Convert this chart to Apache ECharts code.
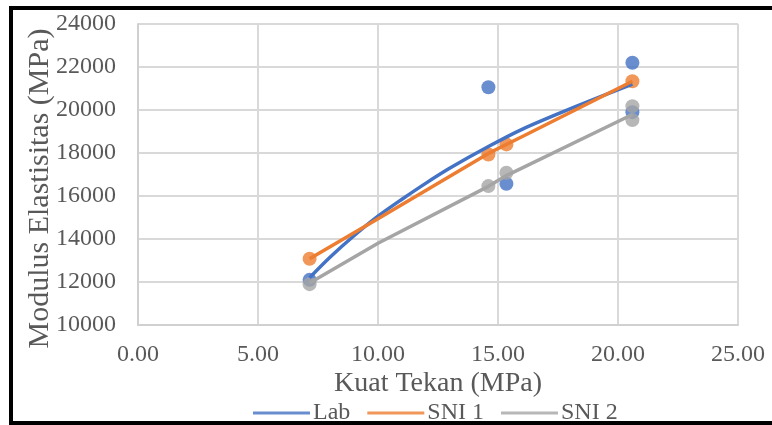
<!DOCTYPE html>
<html>
<head>
<meta charset="utf-8">
<script src="https://cdn.jsdelivr.net/npm/echarts@6/dist/echarts.min.js"></script>
<style>
  html, body { margin: 0; padding: 0; background: #fff; }
  #frame {
    position: absolute; left: 9px; top: 6px; width: 800px; height: 411px;
    border-top: 4px solid #000; border-left: 4px solid #000; border-bottom: 4px solid #000;
  }
  #chart { position: absolute; left: 0; top: 0; width: 772px; height: 425px; }
</style>
</head>
<body>
<div id="frame"></div>
<div id="chart"></div>
<script>
// measured points (x = kuat tekan, y = modulus elastisitas)
var labPoints = [[7.15, 12100], [14.6, 21060], [15.35, 16570], [20.6, 22200], [20.6, 19900]]
var sni1Points = [[7.15, 13080], [14.6, 17930], [15.35, 18400], [20.6, 21340]]
var sni2Points = [[7.15, 11900], [14.6, 16460], [15.35, 17080], [20.6, 20180], [20.6, 19530]]

// trend lines
var labLine = [[7.15, 12200], [8, 13150], [9, 14150], [10, 15060], [11, 15850], [12, 16600],
  [13, 17300], [14.6, 18300], [16, 19100], [18, 20050], [20.6, 21200]]
var sni1Line = [[7.15, 13080], [10, 14940], [14.6, 17980], [16.1, 18815], [20.6, 21340]]
var sni2Line = [[7.15, 11950], [10, 13800], [14.6, 16450], [15.35, 16950], [20.6, 19790]]

var seriesNames = ['Lab', 'SNI 1', 'SNI 2']
var colors = ['#4472C4', '#ED7D31', '#A5A5A5']

var font = 'Liberation Serif'
var textColor = '#595959'

function pointSeries(name, data, color) {
  return {
    name: name,
    type: 'scatter',
    symbol: 'circle',
    symbolSize: 14,
    itemStyle: { color: color },
    data: data
  }
}

function lineSeries(name, data, color, smooth) {
  return {
    name: name,
    type: 'line',
    smooth: smooth,
    symbol: 'none',
    lineStyle: { color: color, width: 3.5 },
    itemStyle: { color: color },
    data: data
  }
}

var chart = echarts.init(document.getElementById('chart'))
chart.setOption({
  animation: false,
  color: colors,
  textStyle: { fontFamily: font },
  grid: { left: 138, right: 34, top: 24, bottom: 100 },
  legend: {
    left: 248,
    top: 396,
    itemWidth: 57,
    itemHeight: 3,
    itemGap: 17,
    icon: 'rect',
    textStyle: { fontFamily: font, fontSize: 24, color: textColor, padding: [0, 0, 0, -2] },
    data: seriesNames
  },
  xAxis: {
    type: 'value',
    min: 0,
    max: 25,
    interval: 5,
    name: 'Kuat Tekan (MPa)',
    nameLocation: 'middle',
    nameGap: 45,
    nameMoveOverlap: false,
    nameTextStyle: { fontFamily: font, fontSize: 28, color: textColor },
    axisLine: { show: true, lineStyle: { color: '#D0D0D0', width: 2 } },
    axisTick: { show: false },
    axisLabel: {
      fontFamily: font, fontSize: 24, color: textColor, margin: 18,
      formatter: function (v) { return v.toFixed(2) }
    },
    splitLine: { lineStyle: { color: '#D9D9D9', width: 2 } }
  },
  yAxis: {
    type: 'value',
    min: 10000,
    max: 24000,
    interval: 2000,
    name: 'Modulus Elastisitas (MPa)',
    nameLocation: 'middle',
    nameGap: 83,
    nameMoveOverlap: false,
    nameTextStyle: { fontFamily: font, fontSize: 30, color: textColor, padding: [0, 28, 0, 0] },
    axisLine: { show: true, lineStyle: { color: '#D0D0D0', width: 2 } },
    axisTick: { show: false },
    axisLabel: {
      fontFamily: font, fontSize: 24, color: textColor, margin: 22,
      formatter: function (v) { return String(v) }
    },
    splitLine: { lineStyle: { color: '#D9D9D9', width: 2 } }
  },
  series: [
    pointSeries('Lab', labPoints, colors[0]),
    pointSeries('SNI 1', sni1Points, colors[1]),
    lineSeries('Lab', labLine, colors[0], 0.3),
    lineSeries('SNI 1', sni1Line, colors[1], false),
    pointSeries('SNI 2', sni2Points, colors[2]),
    lineSeries('SNI 2', sni2Line, colors[2], false)
  ]
})
</script>
</body>
</html>
